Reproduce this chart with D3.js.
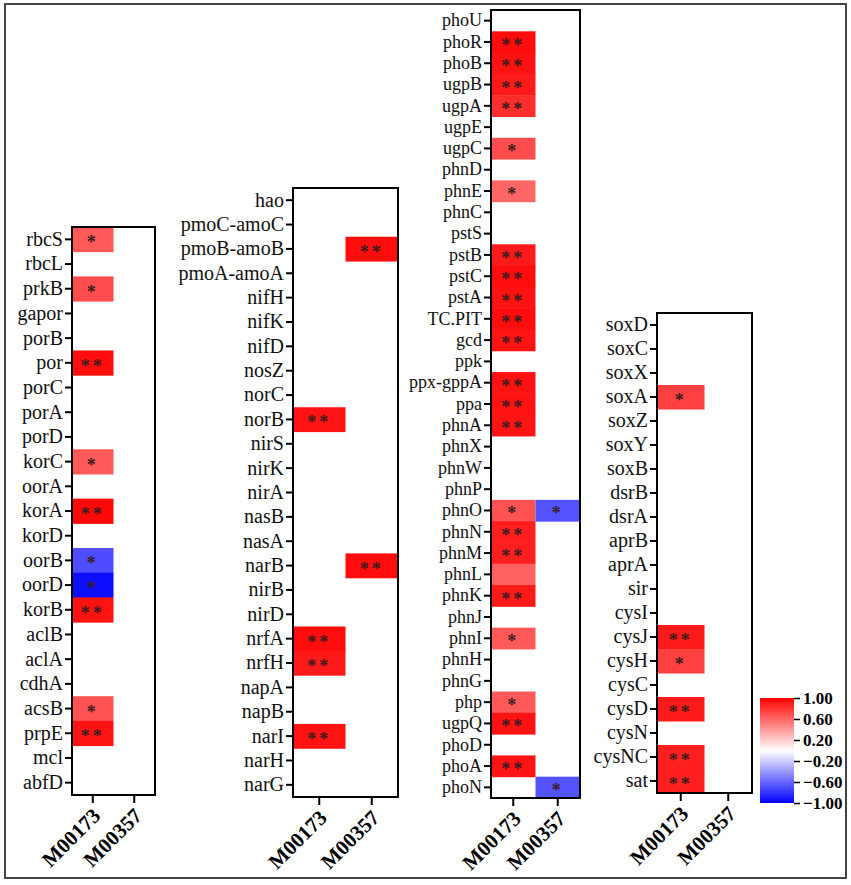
<!DOCTYPE html>
<html>
<head>
<meta charset="utf-8">
<script src="https://cdn.jsdelivr.net/npm/d3@7"></script>
<style>
  body { margin: 0; background: #fff; }
  svg text { font-family: "Times New Roman", "Liberation Serif", serif; }
</style>
</head>
<body>
<svg id="vis" width="851" height="885"></svg>
<script>
// Módulos (columnas)
const MODULOS = ["M00173", "M00357"];

// Panel 1: fijación de carbono
const genesCarbono = ["rbcS", "rbcL", "prkB", "gapor", "porB", "por", "porC", "porA", "porD", "korC", "oorA",
  "korA", "korD", "oorB", "oorD", "korB", "aclB", "aclA", "cdhA", "acsB", "prpE", "mcl", "abfD"];
const carbonoM00173 = [0.65, null, 0.7, null, null, 0.95, null, null, null, 0.65, null,
  0.97, null, -0.7, -0.95, 0.93, null, null, null, 0.68, 0.92, null, null];
const carbonoM00357 = genesCarbono.map(() => null);
const carbonoSig173 = ["*", "", "*", "", "", "**", "", "", "", "*", "",
  "**", "", "*", "*", "**", "", "", "", "*", "**", "", ""];
const carbonoSig357 = genesCarbono.map(() => "");

// Panel 2: nitrógeno
const genesNitrogeno = ["hao", "pmoC-amoC", "pmoB-amoB", "pmoA-amoA", "nifH", "nifK", "nifD", "nosZ", "norC",
  "norB", "nirS", "nirK", "nirA", "nasB", "nasA", "narB", "nirB", "nirD", "nrfA", "nrfH", "napA", "napB",
  "narI", "narH", "narG"];
const nitrogenoM00173 = [null, null, null, null, null, null, null, null, null,
  0.92, null, null, null, null, null, null, null, null, 0.95, 0.9, null, null,
  0.93, null, null];
const nitrogenoM00357 = [null, null, 0.95, null, null, null, null, null, null,
  null, null, null, null, null, null, 0.95, null, null, null, null, null, null,
  null, null, null];
const nitrogenoSig173 = ["", "", "", "", "", "", "", "", "",
  "**", "", "", "", "", "", "", "", "", "**", "**", "", "",
  "**", "", ""];
const nitrogenoSig357 = ["", "", "**", "", "", "", "", "", "",
  "", "", "", "", "", "", "**", "", "", "", "", "", "",
  "", "", ""];

// Panel 3: fósforo
const genesFosforo = ["phoU", "phoR", "phoB", "ugpB", "ugpA", "ugpE", "ugpC", "phnD", "phnE", "phnC", "pstS",
  "pstB", "pstC", "pstA", "TC.PIT", "gcd", "ppk", "ppx-gppA", "ppa", "phnA", "phnX", "phnW", "phnP",
  "phnO", "phnN", "phnM", "phnL", "phnK", "phnJ", "phnI", "phnH", "phnG", "php", "ugpQ", "phoD",
  "phoA", "phoN"];
const fosforoM00173 = [null, 0.95, 0.93, 0.9, 0.82, null, 0.7, null, 0.6, null, null,
  0.9, 0.95, 0.93, 0.95, 0.92, null, 0.93, 0.93, 0.92, null, null, null,
  0.68, 0.88, 0.88, 0.62, 0.9, null, 0.65, null, null, 0.65, 0.93, null,
  0.92, null];
const fosforoM00357 = [null, null, null, null, null, null, null, null, null, null, null,
  null, null, null, null, null, null, null, null, null, null, null, null,
  -0.68, null, null, null, null, null, null, null, null, null, null, null,
  null, -0.68];
const fosforoSig173 = ["", "**", "**", "**", "**", "", "*", "", "*", "", "",
  "**", "**", "**", "**", "**", "", "**", "**", "**", "", "", "",
  "*", "**", "**", "", "**", "", "*", "", "", "*", "**", "",
  "**", ""];
const fosforoSig357 = ["", "", "", "", "", "", "", "", "", "", "",
  "", "", "", "", "", "", "", "", "", "", "", "",
  "*", "", "", "", "", "", "", "", "", "", "", "",
  "", "*"];

// Panel 4: azufre
const genesAzufre = ["soxD", "soxC", "soxX", "soxA", "soxZ", "soxY", "soxB", "dsrB", "dsrA", "aprB", "aprA",
  "sir", "cysI", "cysJ", "cysH", "cysC", "cysD", "cysN", "cysNC", "sat"];
const azufreM00173 = [null, null, null, 0.75, null, null, null, null, null, null, null,
  null, null, 0.9, 0.75, null, 0.9, null, 0.88, 0.88];
const azufreM00357 = genesAzufre.map(() => null);
const azufreSig173 = ["", "", "", "*", "", "", "", "", "", "", "",
  "", "", "**", "*", "", "**", "", "**", "**"];
const azufreSig357 = genesAzufre.map(() => "");

// Marcas de la leyenda
const LEYENDA_TICKS = [1, 0.6, 0.2, -0.2, -0.6, -1];

const SVG = d3.select("#vis");

// Escala de color divergente azul - blanco - rojo
const color = d3.scaleLinear()
  .domain([-1, 0, 1])
  .range(["#0000ff", "#ffffff", "#ff0000"]);

// Marco exterior
SVG.append("rect")
  .attr("x", 5).attr("y", 4)
  .attr("width", 841).attr("height", 874)
  .attr("fill", "none")
  .attr("stroke", "#444")
  .attr("stroke-width", 2);

// Paneles: datos + caja donde se dibujan
const PANELES = [
  { genes: genesCarbono, v: [carbonoM00173, carbonoM00357], s: [carbonoSig173, carbonoSig357],
    x0: 72, x1: 155, y0: 227, y1: 795, fs: 20 },
  { genes: genesNitrogeno, v: [nitrogenoM00173, nitrogenoM00357], s: [nitrogenoSig173, nitrogenoSig357],
    x0: 293, x1: 398, y0: 188, y1: 797, fs: 20 },
  { genes: genesFosforo, v: [fosforoM00173, fosforoM00357], s: [fosforoSig173, fosforoSig357],
    x0: 491, x1: 580, y0: 10, y1: 798, fs: 18 },
  { genes: genesAzufre, v: [azufreM00173, azufreM00357], s: [azufreSig173, azufreSig357],
    x0: 657, x1: 752, y0: 313, y1: 793, fs: 20 }
];

PANELES.forEach(p => {
  const x = d3.scaleBand().domain(MODULOS).range([p.x0, p.x1]);
  const y = d3.scaleBand().domain(p.genes).range([p.y0, p.y1]);

  // celdas
  const celdas = [];
  MODULOS.forEach((m, j) => {
    p.genes.forEach((g, i) => {
      if (p.v[j][i] !== null) celdas.push({ m, g, v: p.v[j][i], s: p.s[j][i] });
    });
  });

  const G = SVG.append("g");

  G.selectAll(".celda")
    .data(celdas)
    .join("rect")
    .attr("class", "celda")
    .attr("x", d => x(d.m))
    .attr("y", d => y(d.g))
    .attr("width", x.bandwidth())
    .attr("height", y.bandwidth() + 0.5)
    .attr("fill", d => color(d.v));

  // asteriscos
  G.selectAll(".sig")
    .data(celdas.filter(d => d.s))
    .join("text")
    .attr("class", "sig")
    .attr("x", d => x(d.m) + x.bandwidth() / 2)
    .attr("y", d => y(d.g) + y.bandwidth() / 2 + 9)
    .attr("text-anchor", "middle")
    .attr("font-size", 18)
    .attr("font-weight", "bold")
    .attr("letter-spacing", 3)
    .attr("fill", "#3a1c1c")
    .text(d => d.s);

  // eje Y
  const ejeY = G.append("g")
    .attr("transform", `translate(${p.x0},0)`)
    .call(d3.axisLeft(y).tickSize(7).tickPadding(2));
  ejeY.select(".domain").remove();
  ejeY.selectAll("line").attr("stroke", "#000").attr("stroke-width", 2);
  ejeY.selectAll("text")
    .attr("font-size", p.fs)
    .attr("font-family", "'Times New Roman', 'Liberation Serif', serif")
    .attr("fill", "#111");

  // eje X
  const ejeX = G.append("g")
    .attr("transform", `translate(0,${p.y1})`)
    .call(d3.axisBottom(x).tickSize(8));
  ejeX.select(".domain").remove();
  ejeX.selectAll("line").attr("stroke", "#000").attr("stroke-width", 2);
  ejeX.selectAll("text")
    .attr("font-size", 21)
    .attr("font-weight", "bold")
    .attr("font-family", "'Times New Roman', 'Liberation Serif', serif")
    .attr("fill", "#000")
    .attr("text-anchor", "end")
    .attr("y", 0).attr("dy", 0)
    .attr("transform", "translate(9,22) rotate(-45)");

  // caja
  G.append("rect")
    .attr("x", p.x0).attr("y", p.y0)
    .attr("width", p.x1 - p.x0).attr("height", p.y1 - p.y0)
    .attr("fill", "none")
    .attr("stroke", "#000")
    .attr("stroke-width", 2);
});

// Leyenda
const defs = SVG.append("defs");
const grad = defs.append("linearGradient")
  .attr("id", "grad").attr("x1", 0).attr("y1", 0).attr("x2", 0).attr("y2", 1);
[1, 0.5, 0, -0.5, -1].forEach((v, i) => {
  grad.append("stop").attr("offset", `${i * 25}%`).attr("stop-color", color(v));
});

const escalaLeyenda = d3.scaleLinear().domain([-1, 1]).range([803, 698]);
SVG.append("rect")
  .attr("x", 760).attr("y", 698)
  .attr("width", 34).attr("height", 105)
  .attr("fill", "url(#grad)");

const ejeLeyenda = SVG.append("g")
  .attr("transform", "translate(794,0)")
  .call(d3.axisRight(escalaLeyenda).tickValues(LEYENDA_TICKS).tickFormat(d3.format(".2f")).tickSize(6).tickPadding(3));
ejeLeyenda.select(".domain").remove();
ejeLeyenda.selectAll("line").attr("stroke", "#000").attr("stroke-width", 1.5);
ejeLeyenda.selectAll("text")
  .attr("font-size", 17)
  .attr("font-weight", "bold")
  .attr("font-family", "'Times New Roman', 'Liberation Serif', serif")
  .attr("fill", "#000");
</script>
</body>
</html>
